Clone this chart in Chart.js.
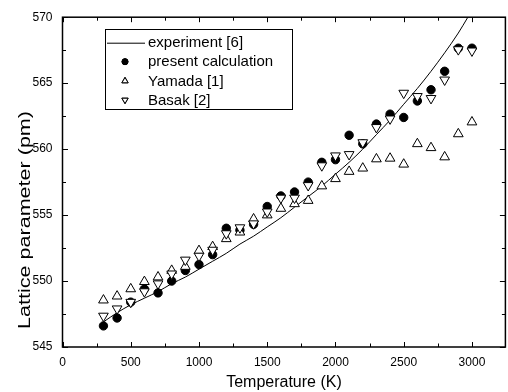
<!DOCTYPE html>
<html><head><meta charset="utf-8">
<script src="https://cdn.jsdelivr.net/npm/chart.js@4/dist/chart.umd.min.js"></script>
<style>html,body{margin:0;padding:0;overflow:hidden;background:#fff}canvas{display:block}</style>
</head><body>
<canvas id="c" width="512" height="392"></canvas>
<script>
// ---- data ----
const temperatures = [300,400,500,600,700,800,900,1000,1100,1200,1300,1400,1500,1600,1700,1800,1900,2000,2100,2200,2300,2400,2500,2600,2700,2800,2900,3000];
const presentCalc = [546.6,547.2,548.4,549.4,549.1,550.0,550.8,551.25,552.0,554.0,553.85,554.3,555.65,556.45,556.75,557.5,559.0,559.2,561.05,560.4,561.9,562.65,562.4,563.65,564.5,565.9,567.65,567.65];
const yamada = [548.55,548.85,549.4,549.95,550.3,550.8,551.1,552.3,552.6,553.2,553.7,554.7,555.0,555.5,555.85,556.1,557.2,557.75,558.3,558.55,559.25,559.3,558.85,560.4,560.1,559.4,561.15,562.05];
const basak = [547.35,547.9,548.4,549.2,549.8,550.55,551.6,551.9,552.35,553.6,554.05,554.35,555.25,556.3,556.3,557.25,558.75,559.5,559.6,560.5,561.65,562.3,564.25,564.0,563.85,565.25,567.55,567.45];
const expTemps = [300,400,500,600,700,800,900,1000,1100,1200,1300,1400,1500,1600,1700,1800,1900,2000,2100,2200,2300,2400,2500,2600,2700,2800,2900,2970];
const expValues = [546.9,547.6,548.2,548.7,549.2,549.8,550.3,550.9,551.5,552.1,552.8,553.4,554.1,554.8,555.6,556.4,557.2,558.1,559.0,560.0,561.1,562.2,563.4,564.6,565.9,567.3,568.8,570.0];
const seriesNames = ['experiment [6]','present calculation','Yamada [1]','Basak [2]'];
const xTickValues = [0,500,1000,1500,2000,2500,3000];
const yTickValues = [545,550,555,560,565,570];
const xMinorStep = 250;
const yMinorStep = 2.5;
const xTitle = 'Temperature (K)';
const yTitle = 'Lattice parameter (pm)';

const pts = (xs, ys) => xs.map((x, i) => ({x, y: ys[i]}));
const FONT = '"Liberation Sans", Arial, sans-serif';

const framePlugin = {
  id: 'frame',
  afterDatasetsDraw(chart) {
    const {ctx, chartArea: a, scales: {x, y}} = chart;
    ctx.save();
    ctx.strokeStyle = '#000';
    ctx.lineWidth = 1.5;
    ctx.strokeRect(a.left, a.top, a.right - a.left, a.bottom - a.top);
    ctx.lineWidth = 1;
    ctx.beginPath();
    for (let v = x.min; v <= x.max + 1e-6; v += xMinorStep) {
      const major = xTickValues.includes(v);
      const L = major ? 5 : 3.5;
      const px = Math.round(x.getPixelForValue(v)) + 0.5;
      ctx.moveTo(px, a.bottom); ctx.lineTo(px, a.bottom - L);
      ctx.moveTo(px, a.top); ctx.lineTo(px, a.top + L);
    }
    for (let v = y.min; v <= y.max + 1e-6; v += yMinorStep) {
      const major = yTickValues.includes(v);
      const L = major ? 5.5 : 3.5;
      const py = Math.round(y.getPixelForValue(v)) + 0.5;
      ctx.moveTo(a.left, py); ctx.lineTo(a.left + L, py);
      ctx.moveTo(a.right, py); ctx.lineTo(a.right - L, py);
    }
    ctx.stroke();
    ctx.restore();
  }
};

// y-axis title, drawn along the axis (stretched lengthwise as in the reference)
const yTitlePlugin = {
  id: 'yTitle',
  afterDraw(chart) {
    const {ctx} = chart;
    ctx.save();
    ctx.font = '16px ' + FONT;
    const w = ctx.measureText(yTitle).width;
    ctx.translate(26, 220);
    ctx.rotate(-Math.PI / 2);
    ctx.scale(218 / w, 1);
    ctx.textAlign = 'center';
    ctx.textBaseline = 'middle';
    ctx.fillStyle = '#000';
    ctx.fillText(yTitle, 0, 0);
    ctx.restore();
  }
};

const legendPlugin = {
  id: 'boxLegend',
  afterDraw(chart) {
    const {ctx} = chart;
    const ds = chart.data.datasets;
    const box = {x: 105.5, y: 29.5, w: 187, h: 80};
    ctx.save();
    ctx.fillStyle = '#fff';
    ctx.fillRect(box.x, box.y, box.w, box.h);
    ctx.strokeStyle = '#000';
    ctx.lineWidth = 1;
    ctx.strokeRect(box.x, box.y, box.w, box.h);
    const rows = [42.7, 61.7, 81, 100];
    ctx.font = '15px ' + FONT;
    ctx.textBaseline = 'middle';
    ctx.fillStyle = '#000';
    ds.forEach((d, i) => {
      const cy = rows[i];
      if (i === 0) {
        ctx.beginPath(); ctx.lineWidth = 1;
        ctx.moveTo(107, cy + 0.5); ctx.lineTo(145, cy + 0.5); ctx.stroke();
      } else {
        Chart.helpers.drawPoint(ctx, {
          pointStyle: d.pointStyle, rotation: d.rotation || 0,
          radius: i === 1 ? 3 : 3.6, borderWidth: 1
        }, 125, cy);
        ctx.fillStyle = d.backgroundColor; ctx.strokeStyle = '#000';
        ctx.fill(); ctx.stroke();
      }
      ctx.fillStyle = '#000';
      ctx.fillText(d.label, 148, cy + 0.5);
    });
    ctx.restore();
  }
};

new Chart(document.getElementById('c'), {
  type: 'scatter',
  data: {
    datasets: [
      {label: seriesNames[0], data: pts(expTemps, expValues), showLine: true, borderColor: '#000', borderWidth: 1,
       pointRadius: 0, cubicInterpolationMode: 'monotone', order: 4},
      {label: seriesNames[1], data: pts(temperatures, presentCalc), pointStyle: 'circle', pointRadius: 4.2,
       backgroundColor: '#000', borderColor: '#000', borderWidth: 1, order: 3},
      {label: seriesNames[2], data: pts(temperatures, yamada), pointStyle: 'triangle', pointRadius: 5.6,
       backgroundColor: '#fff', borderColor: '#000', borderWidth: 1, order: 2},
      {label: seriesNames[3], data: pts(temperatures, basak), pointStyle: 'triangle', rotation: 180, pointRadius: 5.6,
       backgroundColor: '#fff', borderColor: '#000', borderWidth: 1, order: 1}
    ]
  },
  options: {
    responsive: false, animation: false, devicePixelRatio: 1,
    layout: {padding: {top: 15, right: 2, left: 0, bottom: 0}},
    plugins: {legend: {display: false}, tooltip: {enabled: false}},
    scales: {
      x: {
        type: 'linear', min: 0, max: 3245,
        afterBuildTicks: s => { s.ticks = xTickValues.map(v => ({value: v})); },
        afterFit: s => { s.height = 45; },
        grid: {display: false, drawTicks: false}, border: {display: false},
        ticks: {color: '#000', font: {family: FONT, size: 12}, padding: 8, maxRotation: 0, callback: v => String(v)},
        title: {display: true, text: xTitle, color: '#000', font: {family: FONT, size: 16}, padding: 0}
      },
      y: {
        type: 'linear', min: 545, max: 570,
        afterBuildTicks: s => { s.ticks = yTickValues.map(v => ({value: v})); },
        afterFit: s => { s.width = 62.5; },
        grid: {display: false, drawTicks: false}, border: {display: false},
        ticks: {color: '#000', font: {family: FONT, size: 12}, padding: 10, callback: v => String(v)},
        title: {display: false, text: yTitle}
      }
    }
  },
  plugins: [framePlugin, legendPlugin, yTitlePlugin]
});
</script>
</body></html>
